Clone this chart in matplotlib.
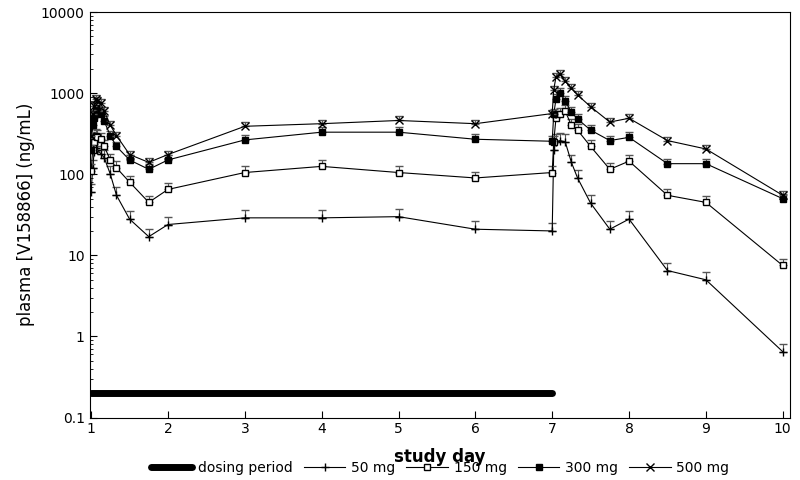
import numpy as np
import matplotlib.pyplot as plt
from matplotlib.ticker import LogLocator, FixedFormatter, FixedLocator

days = [1, 1.02, 1.04, 1.06, 1.08, 1.125, 1.17, 1.25, 1.33, 1.5, 1.75, 2, 3, 4, 5, 6, 7,
        7.02, 7.05, 7.1, 7.17, 7.25, 7.33, 7.5, 7.75, 8, 8.5, 9, 10]
mg50 = [60, 120, 190, 210, 200, 180, 160, 100, 55, 28, 17, 24, 29, 29, 30, 21, 20,
        200, 250, 260, 250, 140, 90, 44, 21, 28, 6.5, 5, 0.65]
mg150 = [110, 200, 250, 300, 290, 270, 220, 150, 120, 80, 45, 65, 105, 125, 105, 90, 105,
         250, 500, 550, 600, 400, 350, 220, 115, 145, 55, 45, 7.5]
mg300 = [200, 400, 500, 650, 600, 550, 450, 300, 220, 150, 115, 150, 265, 330, 330, 270, 255,
         550, 850, 1000, 800, 580, 480, 350, 260, 285, 135, 135, 50]
mg500 = [300, 550, 700, 850, 800, 750, 600, 400, 300, 175, 140, 175, 390, 420, 460, 420, 560,
         1100, 1600, 1700, 1400, 1150, 950, 680, 440, 490, 260, 205, 55]
err_frac = [0.25, 0.2, 0.15, 0.12]

fig, ax = plt.subplots(figsize=(8, 4.8), dpi=100)
fig.subplots_adjust(left=0.112, right=0.988, top=0.975, bottom=0.13)

handles = []
h, = ax.plot([1, 7], [0.2, 0.2], color='black', lw=5, solid_capstyle='round', label='dosing period')
handles.append(h)
styles = [('50 mg', mg50, dict(marker='+', mfc='none', ms=6)),
          ('150 mg', mg150, dict(marker='s', mfc='white', ms=4)),
          ('300 mg', mg300, dict(marker='s', mfc='black', ms=4)),
          ('500 mg', mg500, dict(marker='x', mfc='none', ms=5.5))]
for (name, vals, st), f in zip(styles, err_frac):
    vals = np.array(vals)
    ax.errorbar(days, vals, yerr=[np.zeros_like(vals), vals * f], fmt='none', ecolor='#555555',
                elinewidth=0.8, capsize=3)
    h, = ax.plot(days, vals, color='black', lw=0.8, mec='black', label=name, **st)
    handles.append(h)

ax.set_yscale('log')
ax.set_ylim(0.1, 10000)
ax.set_xlim(0.98, 10.1)
ax.set_xticks(range(1, 11))
ax.yaxis.set_major_locator(FixedLocator([0.1, 1, 10, 100, 1000, 10000]))
ax.yaxis.set_major_formatter(FixedFormatter(['0.1', '1', '10', '100', '1000', '10000']))
ax.yaxis.set_minor_locator(LogLocator(subs=np.arange(2, 10)))
ax.tick_params(which='both', direction='in', labelsize=10)
ax.tick_params(which='major', length=5)
ax.set_xlabel('study day', fontweight='bold', fontsize=12, labelpad=8)
ax.set_ylabel('plasma [V158866] (ng/mL)', fontsize=12)
ax.legend(handles=handles, loc='center', bbox_to_anchor=(0.5, -0.125), ncol=5, frameon=False,
          fontsize=10, handlelength=3, columnspacing=0.8, handletextpad=0.4)

fig.savefig('out.png')
